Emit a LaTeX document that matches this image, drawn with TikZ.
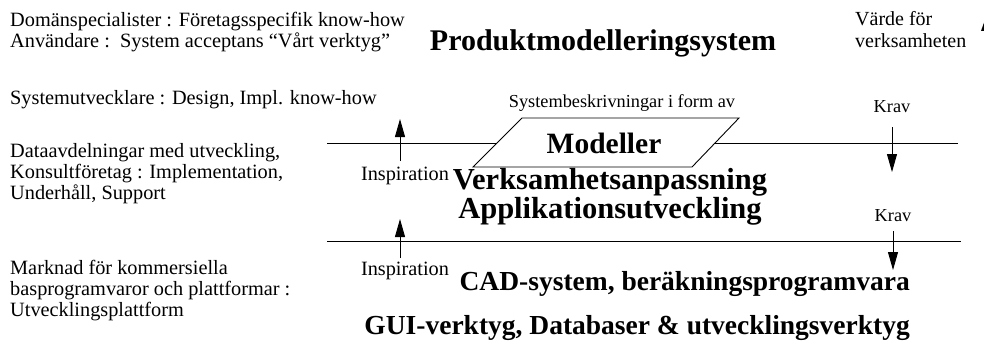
\documentclass[tikz,border=0pt]{standalone}
\usepackage{fontspec}
\setmainfont{Liberation Serif}
\usetikzlibrary{arrows.meta}
\begin{document}
\begin{tikzpicture}[x=1pt,y=-1pt,
  txt/.style={inner sep=0pt,align=left,font=\fontsize{20.3}{21}\selectfont},
  lbl/.style={inner sep=0pt,font=\fontsize{18.3}{21}\selectfont},
  insp/.style={inner sep=0pt,font=\fontsize{20.3}{21}\selectfont},
  big/.style={inner sep=0pt,align=center,font=\fontsize{30.5}{27}\selectfont\bfseries},
  base/.style={inner sep=0pt,anchor=east,font=\fontsize{27.5}{30}\selectfont\bfseries},
  level/.style={line width=0.9pt},
  flow/.style={line width=0.9pt,-{Triangle[length=18pt,width=10pt]}}]
\useasboundingbox (0,0) rectangle (984,345);
% stakeholder column
\node[txt,anchor=west] (dom) at (10,32) {Domänspecialister : Företagsspecifik know-how\\Användare :\ \ System acceptans “Vårt verktyg”};
\node[txt,anchor=west] (sys) at (10,100) {Systemutvecklare : Design, Impl. know-how};
\node[txt,anchor=west] (data) at (10,174) {Dataavdelningar med utveckling,\\Konsultföretag : Implementation,\\Underhåll, Support};
\node[txt,anchor=west] (mark) at (10,291) {Marknad för kommersiella\\basprogramvaror och plattformar :\\Utvecklingsplattform};
% headings
\node[big,font=\fontsize{30}{30}\selectfont\bfseries] (title) at (603,43) {Produktmodelleringsystem};
\node[lbl,align=left,anchor=west,font=\fontsize{20}{22}\selectfont] (value) at (855,30) {Värde för\\verksamheten};
\node[lbl] (desc) at (622,103) {Systembeskrivningar i form av};
% level boundaries
\coordinate (l1a) at (327,143);
\coordinate (l1b) at (958,143);
\coordinate (l2a) at (327,241);
\coordinate (l2b) at (961,241);
\draw[level] (l1a) -- (l1b);
\draw[level] (l2a) -- (l2b);
% model parallelogram
\draw[level,fill=white] (522,118) -- (739,118) -- (692,167) -- (473,167) -- cycle;
\node[big,font=\fontsize{29.5}{30}\selectfont\bfseries] (mod) at (604,143) {Modeller};
% middle layer
\node[big] (app) at (610,197) {Verksamhetsanpassning\\Applikationsutveckling};
\node[insp] (insp1) at (405,176) {Inspiration};
\node[lbl] (krav1) at (892,107) {Krav};
% bottom layer
\node[base] (cad) at (910,284) {CAD-system, beräkningsprogramvara};
\node[base] (gui) at (910,328) {GUI-verktyg, Databaser \& utvecklingsverktyg};
\node[insp] (insp2) at (405,271) {Inspiration};
\node[lbl] (krav2) at (893,216) {Krav};
% arrows across the boundaries
\coordinate (u1s) at (400,161); \coordinate (u1e) at (400,119);
\coordinate (u2s) at (400,258); \coordinate (u2e) at (400,219);
\coordinate (d1s) at (892,127); \coordinate (d1e) at (892,172);
\coordinate (d2s) at (893,231); \coordinate (d2e) at (893,270);
\draw[flow] (u1s) -- (u1e);
\draw[flow] (u2s) -- (u2e);
\draw[flow] (d1s) -- (d1e);
\draw[flow] (d2s) -- (d2e);
% arrow tip at the right edge
\fill (981,31) -- (986,17) -- (991,31) -- cycle;
\end{tikzpicture}
\end{document}
